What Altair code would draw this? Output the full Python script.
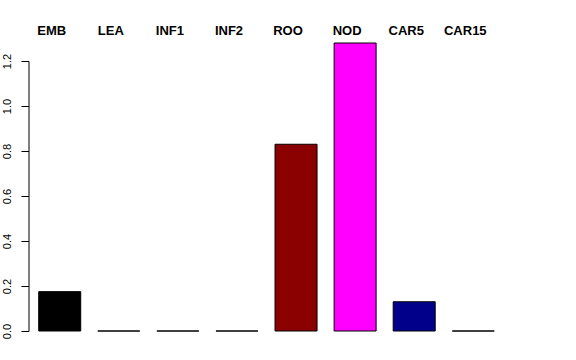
import altair as alt
import pandas as pd

categories = ["EMB", "LEA", "INF1", "INF2", "ROO", "NOD", "CAR5", "CAR15"]
values = [0.175, 0.0, 0.0, 0.0, 0.83, 1.28, 0.13, 0.0]
colors = ["#000000", "#000000", "#000000", "#000000", "#8B0000", "#FF00FF", "#00008B", "#000000"]

df = pd.DataFrame({"cat": categories, "val": values, "col": colors})

font = "Liberation Sans"

chart = alt.Chart(df).mark_bar(stroke="black", strokeWidth=1).encode(
    x=alt.X(
        "cat:N",
        sort=categories,
        scale=alt.Scale(paddingInner=0.289, paddingOuter=0.173),
        axis=alt.Axis(
            orient="top", title=None, domain=False, ticks=False, tickSize=0,
            labelAngle=0, labelFont=font, labelFontSize=13, labelFontWeight="bold",
            labelColor="black", labelBaseline="alphabetic", labelPadding=26.5,
            labelOffset=-8, labelAlign="center",
        ),
    ),
    y=alt.Y(
        "val:Q",
        scale=alt.Scale(domain=[0, 1.2], nice=False, zero=True),
        axis=alt.Axis(
            title=None, values=[0, 0.2, 0.4, 0.6, 0.8, 1.0, 1.2], format=".1f",
            grid=False, domainColor="black", domainWidth=1, tickColor="black",
            tickWidth=1, tickSize=7.5, labelAngle=270, labelAlign="center",
            labelBaseline="alphabetic", labelPadding=11, labelFont=font,
            labelFontSize=11, labelColor="black",
        ),
    ),
    color=alt.Color("col:N", scale=None, legend=None),
).properties(
    width=476,
    height=270,
    autosize=alt.AutoSizeParams(type="none"),
    padding={"left": 28.5, "top": 61, "right": 71.5, "bottom": 29},
    background="white",
).configure_view(stroke=None)

chart.save("out.html", embed_options={"renderer": "svg", "actions": False})
